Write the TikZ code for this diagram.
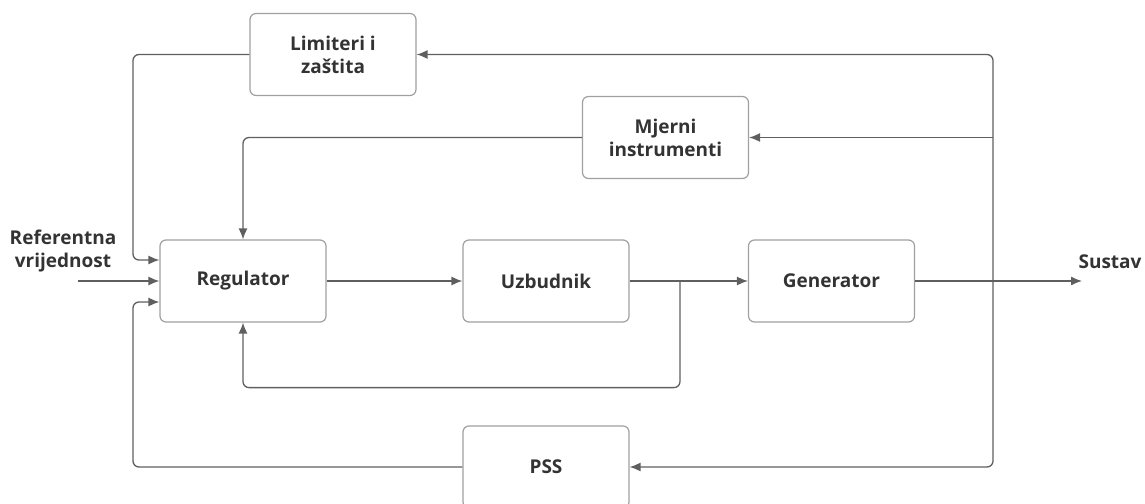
\documentclass[tikz,border=0pt]{standalone}
\usepackage{fontspec}
\setmainfont{Open Sans}
\usetikzlibrary{arrows.meta}
\definecolor{linegray}{HTML}{5F5F5F}
\definecolor{boxgray}{HTML}{A0A0A0}
\definecolor{textgray}{HTML}{333333}

\begin{document}
\begin{tikzpicture}[x=1pt,y=-1pt,
    blok/.style={draw=boxgray,line width=1.2pt,rounded corners=6pt,minimum width=166pt,minimum height=82pt,
      font=\fontsize{19}{23}\selectfont\bfseries,text=textgray,align=center},
    natpis/.style={font=\fontsize{19}{23}\selectfont\bfseries,text=textgray,align=center}]
        \useasboundingbox (0,0) rectangle (1145,503);
        \node[blok] (LZ) at (333,54.5) {Limiteri i\\zaštita};
        \node[blok] (MI) at (665.5,137.5) {Mjerni\\instrumenti};
        \node[blok] (R) at (243,281) {Regulator};
        \node[blok] (U) at (546,281) {Uzbudnik};
        \node[blok] (G) at (831.5,281) {Generator};
        \node[blok] (P) at (546,467) {PSS};
        \node[natpis] (REF) at (63,251) {Referentna\\vrijednost};
        \node[natpis] (S) at (1110,262) {Sustav};
        \coordinate (ulaz) at (78,281);
        \coordinate (izlaz) at (1082,281);
        \coordinate (grana) at (680,281);
        \coordinate (sab) at (993,281);
        \tikzset{fleche/.style={-{Latex[length=11pt,width=9pt]},draw=linegray,line width=1.3pt}}
        \draw[fleche] (ulaz) -- (R.west);
        \draw[fleche] (R) -- (U);
        \draw[fleche] (U) -- (G);
        \draw[fleche] (G) -- (izlaz);
        \draw[fleche,rounded corners=6pt] (sab) |- (LZ.east);
        \draw[fleche] (sab |- MI.east) -- (MI.east);
        \draw[fleche,rounded corners=6pt] (sab) |- (P.east);
        \draw[fleche,rounded corners=6pt] (LZ.west) -| (133,170) |- ([yshift=21pt]R.west);
        \draw[fleche,rounded corners=6pt] (P.west) -| (133,380) |- ([yshift=-21pt]R.west);
        \draw[fleche,rounded corners=6pt] (MI.west) -| (R.north);
        \draw[fleche,rounded corners=6pt] (grana) |- ([yshift=-65pt]R.south) -- (R.south);
        \end{tikzpicture}
\end{document}
